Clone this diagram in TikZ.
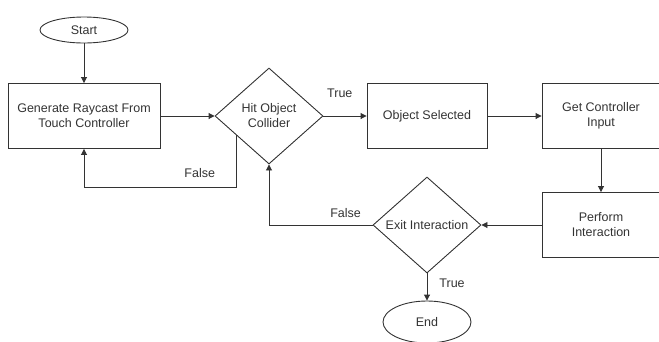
\documentclass[tikz,border=0pt]{standalone}
\usepackage{fontspec}
\setmainfont{Liberation Sans}
\usetikzlibrary{positioning,shapes.geometric,arrows.meta,calc}
\definecolor{inkgray}{HTML}{333333}
\begin{document}
\begin{tikzpicture}[x=1pt,y=1pt,on grid,
  every node/.style={font=\fontsize{12.5}{15}\selectfont,text=inkgray},
  terminal/.style={ellipse,draw,inner sep=0pt,minimum width=88pt,minimum height=26pt},
  process/.style={rectangle,draw,align=center,inner sep=0pt,minimum height=65pt},
  decision/.style={diamond,draw,align=center,inner sep=0pt,minimum width=108pt,minimum height=96pt},
  flow/.style={draw=inkgray,line width=0.9pt,-{Triangle[length=6pt,width=6pt]}},
  lbl/.style={inner sep=0pt}]
\useasboundingbox (0,0) rectangle (659,-341);
\tikzset{every path/.append style={line width=0.9pt,draw=inkgray}}
\node[process,minimum width=152pt] (gen) at (84,-116) {Generate Raycast From\\Touch Controller};
\node[terminal,above=86pt of gen] (start) {Start};
\node[decision,right=185pt of gen] (hit) {Hit Object\\Collider};
\node[process,minimum width=120pt,right=158pt of hit] (obj) {Object Selected};
\node[process,minimum width=118pt,right=174pt of obj] (get) {Get Controller\\Input};
\node[process,minimum width=118pt,below=109pt of get] (perf) {Perform\\Interaction};
\node[decision,left=174pt of perf] (exit) {Exit Interaction};
\node[terminal,minimum height=42pt,below=97pt of exit] (end) {End};
% connectors
\coordinate (hitout) at ($(hit.west)!0.4!(hit.south)$);
\coordinate (loopback) at ([yshift=-38pt]gen.south);
\draw[flow] (start) -- (gen);
\draw[flow] (gen) -- (hit);
\draw[flow] (hit) -- node[lbl,pos=0.38,above=18pt] {True} (obj);
\draw[flow] (obj) -- (get);
\draw[flow] (get) -- (perf);
\draw[flow] (perf) -- (exit);
\draw[flow] (hitout) |- node[lbl,pos=0.62,above=9pt] {False} (loopback) -- (gen.south);
\draw[flow] (exit.west) -| node[lbl,pos=0.13,above=7pt] {False} (hit.south);
\draw[flow] (exit.south) -- node[lbl,pos=0.35,right=12pt] {True} (end);
\end{tikzpicture}
\end{document}
